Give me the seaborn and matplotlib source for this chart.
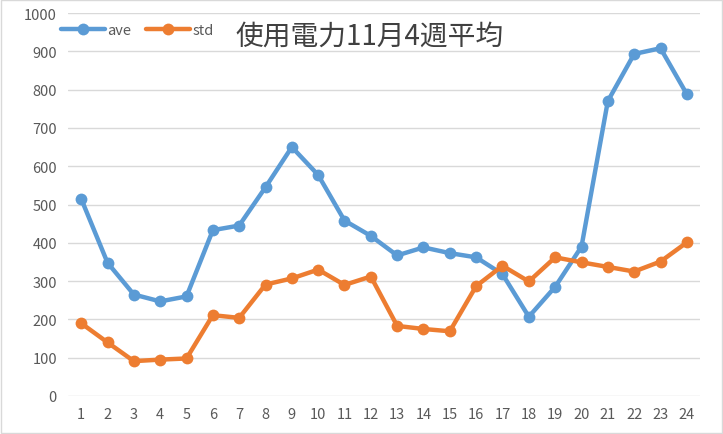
import matplotlib
matplotlib.use("Agg")
import matplotlib.pyplot as plt
import seaborn as sns
import pandas as pd
from matplotlib.patches import Rectangle

hours = list(range(1, 25))
ave = [515, 348, 265, 247, 260, 433, 445, 545, 650, 577, 458, 418,
       367, 388, 373, 362, 318, 207, 285, 390, 770, 893, 908, 788]
std = [190, 140, 91, 95, 98, 211, 204, 291, 307, 330, 290, 312,
       183, 175, 169, 287, 340, 299, 362, 349, 337, 325, 351, 401]
series_names = ["ave", "std"]
title = "使用電力11月4週平均"
yticks = list(range(0, 1001, 100))

sns.set_theme(style="white")
plt.rcParams['font.family'] = ['Noto Sans CJK JP', 'DejaVu Sans']

df = pd.DataFrame({
    "hour": hours * 2,
    "value": ave + std,
    "series": [series_names[0]] * len(hours) + [series_names[1]] * len(hours),
})

fig = plt.figure(figsize=(7.23, 4.35), dpi=100)
ax = fig.add_axes([68/723, 1-397/435, (700-68)/723, (397-14)/435])

palette = {"ave": "#5B9BD5", "std": "#ED7D31"}
sns.lineplot(data=df, x="hour", y="value", hue="series", palette=palette,
             marker="o", markersize=8.5, markeredgewidth=0, linewidth=3.2,
             ax=ax, legend=True)

ax.set_xlim(0.5, 24.5)
ax.set_ylim(0, 1000)
ax.set_xticks(hours)
ax.set_yticks(yticks)
ax.set_xlabel("")
ax.set_ylabel("")
ax.grid(axis="y", color="#D9D9D9", linewidth=1)
ax.set_axisbelow(True)
for s in ax.spines.values():
    s.set_visible(False)
ax.tick_params(axis="both", length=0, labelsize=10.5, labelcolor="#595959", pad=8)

leg = ax.legend(loc="upper left", bbox_to_anchor=(55/723, 1-18/435),
                bbox_transform=fig.transFigure, ncol=2, frameon=False,
                fontsize=10.5, handlelength=3, columnspacing=1.0,
                handletextpad=0.2, borderaxespad=0)
for t in leg.get_texts():
    t.set_color("#595959")

fig.text(370/723, 1-37/435, title, ha="center", va="center",
         fontsize=20, color="#404040")

fig.patches.append(Rectangle((0.002, 0.002), 0.996, 0.996, transform=fig.transFigure,
                             fill=False, edgecolor="#D9D9D9", linewidth=1))

fig.savefig("out.png", dpi=100)
